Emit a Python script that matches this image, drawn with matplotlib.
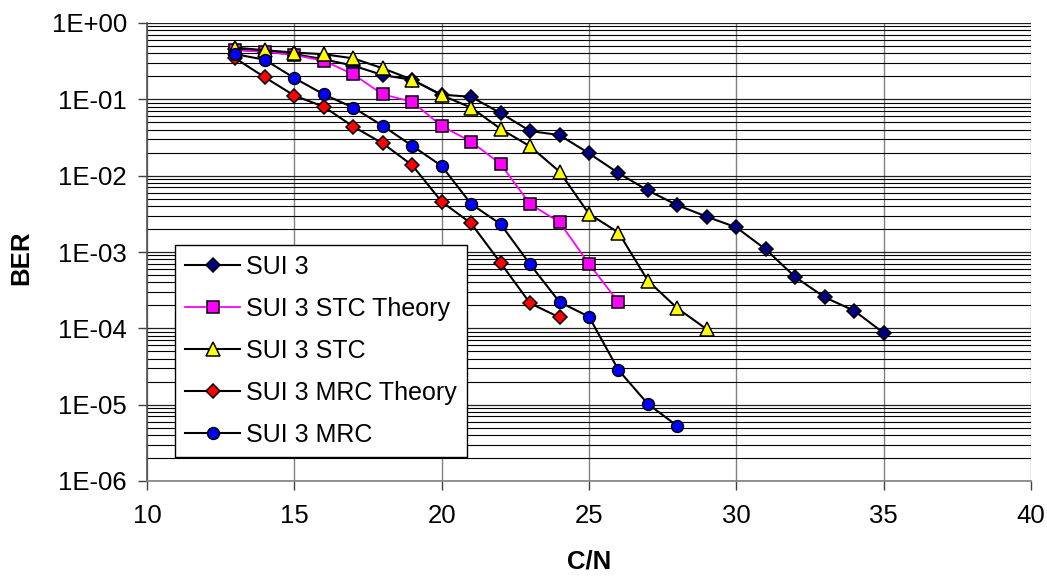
import numpy as np
import matplotlib
matplotlib.use("Agg")
import matplotlib.pyplot as plt
from matplotlib.ticker import FixedLocator, FuncFormatter, NullFormatter

plt.rcParams['font.family'] = ['Liberation Sans', 'DejaVu Sans']

# BER vs C/N
cn_sui3 = list(range(13, 36))
ber_sui3 = [0.45, 0.42, 0.39, 0.335, 0.276, 0.208, 0.18, 0.115, 0.108, 0.066,
            0.0385, 0.034, 0.0196, 0.0108, 0.0064, 0.0041, 0.0029, 0.0021,
            0.00108, 0.00047, 0.000255, 0.00017, 8.7e-5]

cn_stc_theory = list(range(13, 27))
ber_stc_theory = [0.44, 0.42, 0.38, 0.32, 0.213, 0.116, 0.093, 0.0447, 0.0279,
                  0.0142, 0.00425, 0.00245, 0.0007, 0.00022]

cn_stc = list(range(13, 30))
ber_stc = [0.475, 0.44, 0.41, 0.39, 0.344, 0.255, 0.181, 0.113, 0.078, 0.041,
           0.0242, 0.0113, 0.00315, 0.0018, 0.00042, 0.000183, 9.7e-5]

cn_mrc_theory = list(range(13, 25))
ber_mrc_theory = [0.344, 0.194, 0.112, 0.080, 0.044, 0.0265, 0.0137, 0.00456,
                  0.00237, 0.00072, 0.000213, 0.000139]

cn_mrc = list(range(13, 29))
ber_mrc = [0.39, 0.33, 0.19, 0.116, 0.078, 0.045, 0.0246, 0.0134, 0.00425,
           0.00232, 0.00069, 0.000221, 0.000142, 2.84e-5, 1.02e-5, 5.25e-6]

x_ticks = [10, 15, 20, 25, 30, 35, 40]
y_ticks = [1e0, 1e-1, 1e-2, 1e-3, 1e-4, 1e-5, 1e-6]

fs = 18.5

fig = plt.figure(figsize=(10.47, 5.76), dpi=100)
ax = fig.add_axes([147 / 1047, 1 - 481 / 576, 884 / 1047, 458 / 576])

ax.set_yscale('log')
ax.set_xlim(10, 40)
ax.set_ylim(1e-6, 1)

# gridlines: every decade and every minor step, vertical ones gray
ax.yaxis.set_major_locator(FixedLocator(y_ticks))
minor = [m * 10.0 ** e for e in range(-6, 0) for m in range(2, 10)]
ax.yaxis.set_minor_locator(FixedLocator(minor))
ax.yaxis.set_minor_formatter(NullFormatter())
ax.yaxis.set_major_formatter(FuncFormatter(lambda v, p: f"1E{int(round(np.log10(v))):+03d}"))
ax.xaxis.set_major_locator(FixedLocator(x_ticks))

ax.grid(True, which='major', axis='y', color='#202020', lw=0.9)
ax.grid(True, which='minor', axis='y', color='black', lw=0.8)
ax.grid(True, which='major', axis='x', color='#808080', lw=1.0)
ax.set_axisbelow(True)

for s in ['top', 'right']:
    ax.spines[s].set_visible(False)
ax.spines['left'].set_color('#505050')
ax.spines['bottom'].set_color('#808080')
ax.spines['left'].set_linewidth(1.2)
ax.spines['bottom'].set_linewidth(1.2)

ax.tick_params(axis='both', which='major', direction='out', length=6.5, width=1,
               color='#404040', labelsize=fs, pad=8)
ax.tick_params(axis='x', which='major', pad=10)
ax.tick_params(axis='y', which='minor', length=0)

mk = dict(markeredgecolor='black', markeredgewidth=1.1)
ax.plot(cn_sui3, ber_sui3, color='black', lw=1.5, marker='D', ms=7.5,
        markerfacecolor='#000080', label='SUI 3', **mk)
ax.plot(cn_stc_theory, ber_stc_theory, color='#FF00FF', lw=1.3, marker='s', ms=8.5,
        markerfacecolor='#FF00FF', label='SUI 3 STC Theory', **mk)
ax.plot(cn_stc, ber_stc, color='black', lw=1.5, marker='^', ms=10.5,
        markerfacecolor='#FFFF00', label='SUI 3 STC', **mk)
ax.plot(cn_mrc_theory, ber_mrc_theory, color='black', lw=1.5, marker='D', ms=7.5,
        markerfacecolor='#FF0000', label='SUI 3 MRC Theory', **mk)
ax.plot(cn_mrc, ber_mrc, color='black', lw=1.5, marker='o', ms=8.5,
        markerfacecolor='#0000FF', label='SUI 3 MRC', **mk)

leg = ax.legend(loc='upper left', bbox_to_anchor=(0.0317, 0.515), fontsize=18,
                frameon=True, fancybox=False, framealpha=1, edgecolor='black',
                handlelength=2.2, handletextpad=0.25, labelspacing=0.72,
                borderpad=0.4, borderaxespad=0)
leg.get_frame().set_linewidth(1.0)

ax.set_xlabel('C/N', fontsize=fs, fontweight='bold')
ax.set_ylabel('BER', fontsize=fs, fontweight='bold')
ax.xaxis.set_label_coords(0.5, -0.176)
ax.xaxis.label.set_va('center')
ax.yaxis.set_label_coords(-0.1417, 0.487)
ax.yaxis.label.set_va('center')

fig.savefig('out.png', dpi=100)
